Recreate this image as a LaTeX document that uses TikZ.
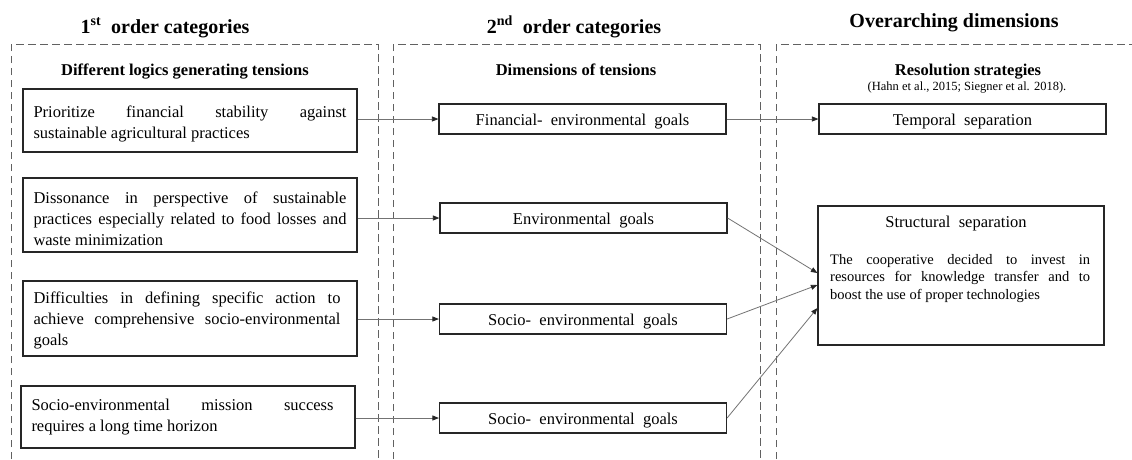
\documentclass[tikz,border=0pt]{standalone}
\usepackage{fontspec}
\setmainfont{Liberation Serif}
\usetikzlibrary{arrows.meta}
\newcommand{\justpar}{\leftskip=0pt\rightskip=0pt\parfillskip=0pt plus 1fil\spaceskip=0pt\xspaceskip=0pt\relax}
\begin{document}
\begin{tikzpicture}[x=1pt,y=-1pt,
  dbox/.style={draw=black!62, dash pattern=on 7.5pt off 4.5pt, line width=0.9pt},
  head/.style={font=\bfseries\fontsize{20}{24}\selectfont, anchor=base, inner sep=0pt},
  sub/.style={font=\bfseries\fontsize{16.5}{20}\selectfont, anchor=base, inner sep=0pt},
  cite/.style={font=\fontsize{12.5}{15}\selectfont, anchor=base, inner sep=0pt},
  abox/.style={draw=black!85, line width=1.2pt, text width=313pt, align=justify, inner xsep=10.5pt, inner ysep=0pt, font=\fontsize{16.5}{21}\selectfont},
  gbox/.style={draw=black!85, line width=1.2pt, minimum width=287pt, minimum height=30pt, inner sep=0pt, text height=12pt, text depth=0pt, font=\fontsize{16.5}{20}\selectfont},
  conn/.style={draw=black!55, line width=0.8pt, -{Triangle[length=6.5pt,width=5pt,color=black!85]}},
]
\useasboundingbox (0,0) rectangle (1132,459);
\fill[white] (0,0) rectangle (1132,459);

% dashed columns
\draw[dbox] (11,459) -- (11,44) -- (378,44) -- (378,459);
\draw[dbox] (393,459) -- (393,44) -- (760,44) -- (760,459);
\draw[dbox] (776,459) -- (776,44) -- (1132,44);

% headings
\node[head] (h1) at (165,33) {1\textsuperscript{st}\ \ order categories};
\node[head] (h2) at (574,33) {2\textsuperscript{nd}\ \ order categories};
\node[head] (h3) at (954,27) {Overarching dimensions};

\node[sub] (s1) at (185,75) {Different logics generating tensions};
\node[sub] (s2) at (576,75) {Dimensions of tensions};
\node[sub] (s3) at (968,75) {Resolution strategies};
\node[cite] (c3) at (967,90) {(Hahn et al., 2015; Siegner et al. 2018).};

% first-order boxes
\node[abox, minimum height=63pt] (A1) at (190,120.5)
  {\rule{0pt}{19pt}Prioritize financial stability against\linebreak sustainable agricultural practices};
\node[abox, minimum height=74pt] (A2) at (190,215)
  {\rule{0pt}{20pt}Dissonance in perspective of sustainable\linebreak practices especially related to food losses and\linebreak waste minimization};
\node[abox, align=left, minimum height=75pt] (A3) at (190,318.5)
  {\parbox{307pt}{\justpar\rule{0pt}{16pt}Difficulties in defining specific action to\linebreak achieve comprehensive socio-environmental\linebreak goals}};
\node[abox, align=left, minimum height=62pt] (A4) at (188,417)
  {\parbox{302pt}{\justpar\rule{0pt}{12pt}Socio-environmental mission success\linebreak requires a long time horizon}};

% second-order boxes
\node[gbox] (B1) at (582.5,119) {Financial-\ \ environmental\ \ goals};
\node[gbox] (B2) at (583.5,218) {Environmental\ \ goals};
\node[gbox] (B3) at (583,319) {Socio-\ \ environmental\ \ goals};
\node[gbox] (B4) at (583,418) {Socio-\ \ environmental\ \ goals};

% resolution boxes
\node[gbox] (C1) at (962.5,119) {Temporal\ \ separation};
\node[draw=black!85, line width=1.2pt, minimum width=286pt, minimum height=139pt, inner sep=0pt] (C2) at (961,275.5) {};
\node[anchor=base, inner sep=0pt, font=\fontsize{16.5}{20}\selectfont] (C2t) at (956,227.5) {Structural\ \ separation};
\node[anchor=north west, inner sep=0pt, text width=260pt, align=justify, font=\fontsize{14.5}{17.5}\selectfont] (C2p) at (830,254)
  {The cooperative decided to invest in\linebreak resources for knowledge transfer and to\linebreak boost the use of proper technologies};

% connectors
\draw[conn] (A1.east |- B1.west) -- (B1.west);
\draw[conn] (A2.east |- B2.west) -- (B2.west);
\draw[conn] (A3.east |- B3.west) -- (B3.west);
\draw[conn] (A4.east |- B4.west) -- (B4.west);
\draw[conn] (B1.east) -- (C1.west);
\draw[conn] (B2.east) -- ([yshift=2.5pt]C2.west);
\draw[conn] (B3.east) -- ([yshift=-9.5pt]C2.west);
\draw[conn] (B4.east) -- ([yshift=-32.5pt]C2.west);
\end{tikzpicture}
\end{document}
